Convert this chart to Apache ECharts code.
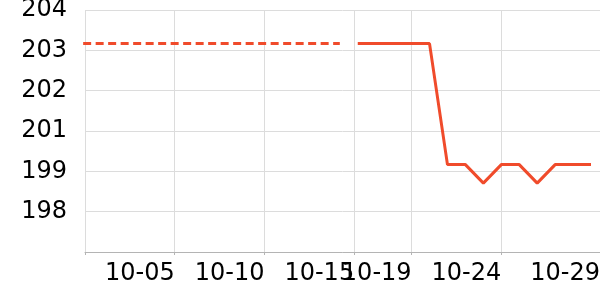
<!DOCTYPE html>
<html>
<head>
<meta charset="utf-8">
<script src="https://cdn.jsdelivr.net/npm/echarts@6/dist/echarts.min.js"></script>
<style>html,body{margin:0;padding:0;background:#fff}#c{width:600px;height:300px}</style>
</head>
<body>
<div id="c"></div>
<script>
// x positions in days from the left edge of the plot
const xTickValues = [0, 5, 10, 15, 18.2, 23.2, 28.7];
const xLabelValues = [5, 10, 15, 18.2, 23.2, 28.7];
const xTickLabels = ['10-05', '10-10', '10-15', '10-19', '10-24', '10-29'];

const yTickLabels = ['', '198', '199', '201', '202', '203', '204'];

const dashedDays = [-0.8, 0.2, 1.2, 2.2, 3.2, 4.2, 5.2, 6.2, 7.2, 8.2, 9.2, 10.2, 11.2, 12.2, 13.2, 14.2];
const dashedValues = [203, 203, 203, 203, 203, 203, 203, 203, 203, 203, 203, 203, 203, 203, 203, 203];

const solidDays = [15.2, 16.2, 17.2, 18.2, 19.2, 20.2, 21.2, 22.2, 23.2, 24.2, 25.2, 26.2, 27.2, 28.2];
const solidValues = [203, 203, 203, 203, 203, 199.4, 199.4, 198.85, 199.4, 199.4, 198.85, 199.4, 199.4, 199.4];

const Y_MIN = 196.8, Y_MAX = 204, Y_INT = 1.2;
const LINE_COLOR = '#f04b2b';

const chart = echarts.init(document.getElementById('c'), null, {renderer: 'canvas'});
chart.setOption({
  animation: false,
  grid: {left: 85, right: 0, top: 10, bottom: 48, containLabel: false, outerBoundsMode: 'none'},
  xAxis: {
    type: 'value', min: 0, max: 28.7,
    axisLine: {show: true, lineStyle: {color: '#b4b4b4', width: 1}},
    axisTick: {show: true, length: 3, customValues: xTickValues, lineStyle: {color: '#b4b4b4'}},
    splitLine: {show: true, lineStyle: {color: '#dcdcdc', width: 1}},
    axisLabel: {
      customValues: xLabelValues,
      align: 'right', margin: 10,
      fontFamily: 'DejaVu Sans', fontSize: 24, color: '#000',
      formatter: function (v) {
        let best = 0, bd = Infinity;
        xLabelValues.forEach(function (t, i) { const d = Math.abs(t - v); if (d < bd) { bd = d; best = i; } });
        return xTickLabels[best];
      }
    }
  },
  yAxis: {
    type: 'value', min: Y_MIN, max: Y_MAX, interval: Y_INT,
    axisLine: {show: false},
    axisTick: {show: false},
    splitLine: {show: true, lineStyle: {color: '#dcdcdc', width: 1}},
    axisLabel: {
      margin: 18,
      fontFamily: 'DejaVu Sans', fontSize: 24, color: '#000',
      formatter: function (v) {
        const i = Math.round((v - Y_MIN) / Y_INT);
        return yTickLabels[i] || '';
      }
    }
  },
  series: [
    {
      type: 'line', showSymbol: false, symbol: 'none',
      data: dashedDays.map(function (d, i) { return [d, dashedValues[i]]; }),
      lineStyle: {color: LINE_COLOR, width: 3, type: [8, 4.5]},
      itemStyle: {color: LINE_COLOR}
    },
    {
      type: 'line', showSymbol: false, symbol: 'none',
      data: solidDays.map(function (d, i) { return [d, solidValues[i]]; }),
      lineStyle: {color: LINE_COLOR, width: 3},
      itemStyle: {color: LINE_COLOR}
    }
  ]
});
</script>
</body>
</html>
